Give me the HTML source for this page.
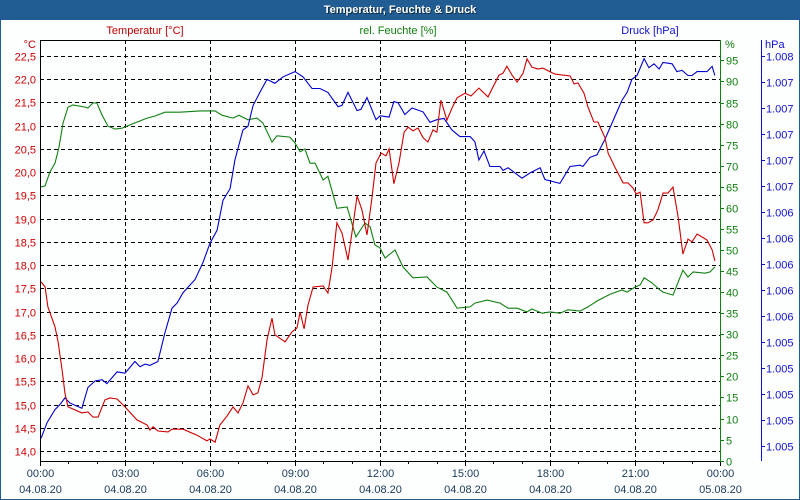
<!DOCTYPE html>
<html><head><meta charset="utf-8"><style>
body{margin:0;background:#fff;}
#wrap{position:relative;width:800px;height:500px;overflow:hidden;font-family:"Liberation Sans",sans-serif;}
svg text{font-family:"Liberation Sans",sans-serif;font-size:11px;}
</style></head><body>
<div id="wrap">
<svg id="chart" width="800" height="500">
<rect x="0" y="0" width="800" height="500" fill="#fdfefe" stroke="#1f5c92" stroke-width="2"/>
<rect x="0" y="0" width="800" height="20" fill="#215d92"/>
<text x="401" y="14" text-anchor="middle" fill="#0b2a44" font-weight="bold">Temperatur, Feuchte &amp; Druck</text>
<text x="400" y="13" text-anchor="middle" fill="#fff" font-weight="bold">Temperatur, Feuchte &amp; Druck</text>
<text x="145" y="34" text-anchor="middle" fill="#c00000">Temperatur [°C]</text>
<text x="398" y="34" text-anchor="middle" fill="#108010">rel. Feuchte [%]</text>
<text x="650" y="34" text-anchor="middle" fill="#1010d0">Druck [hPa]</text>
<text x="36" y="48" text-anchor="end" fill="#c00000">°C</text>
<text x="725" y="48" fill="#108010">%</text>
<text x="765" y="48" fill="#1010d0">hPa</text>
<g id="grid"></g>
<g id="axes"></g>
<g id="series"></g>
</svg>
</div>
<script>
const tempTicks=[14.0,14.5,15.0,15.5,16.0,16.5,17.0,17.5,18.0,18.5,19.0,19.5,20.0,20.5,21.0,21.5,22.0,22.5];
const humTicks=[0,5,10,15,20,25,30,35,40,45,50,55,60,65,70,75,80,85,90,95];
const pressTickVals=[1005.0,1005.2,1005.4,1005.6,1005.8,1006.0,1006.2,1006.4,1006.6,1006.8,1007.0,1007.2,1007.4,1007.6,1007.8,1008.0];
const pressTickLabels=["1.005","1.005","1.005","1.005","1.005","1.006","1.006","1.006","1.006","1.006","1.007","1.007","1.007","1.007","1.007","1.008"];
const timeLabels=["00:00","03:00","06:00","09:00","12:00","15:00","18:00","21:00","00:00"];
const dateLabels=["04.08.20","04.08.20","04.08.20","04.08.20","04.08.20","04.08.20","04.08.20","04.08.20","05.08.20"];

const tempHours=[0.04,0.18,0.28,0.53,0.64,0.78,0.88,0.99,1.48,1.69,1.87,2.05,2.29,2.47,2.72,3.00,3.42,3.78,3.88,3.99,4.16,4.52,4.66,5.05,5.54,5.89,6.00,6.18,6.35,6.60,6.81,6.99,7.16,7.34,7.52,7.69,7.84,8.01,8.19,8.29,8.65,8.89,9.07,9.18,9.32,9.46,9.64,9.99,10.16,10.31,10.48,10.66,10.87,11.01,11.19,11.36,11.54,11.72,11.86,12.04,12.21,12.32,12.49,12.67,12.85,12.99,13.16,13.34,13.52,13.69,13.87,14.01,14.15,14.36,14.54,14.72,15.00,15.21,15.49,15.81,16.20,16.34,16.48,16.66,16.84,17.05,17.19,17.36,17.58,17.75,18.00,18.18,18.71,18.85,18.99,19.20,19.34,19.55,19.69,19.94,20.05,20.29,20.58,20.75,20.93,21.04,21.18,21.32,21.46,21.64,21.81,21.99,22.16,22.34,22.52,22.69,22.87,23.01,23.19,23.54,23.72,23.82];
const tempValues=[17.64,17.53,17.10,16.67,16.35,15.74,15.25,14.95,14.82,14.84,14.73,14.73,15.10,15.14,15.12,14.95,14.67,14.56,14.45,14.52,14.43,14.41,14.47,14.47,14.34,14.22,14.26,14.19,14.56,14.75,14.95,14.82,15.03,15.40,15.21,15.25,15.59,16.39,16.86,16.50,16.35,16.56,16.65,16.99,16.63,17.14,17.53,17.55,17.40,17.96,18.91,18.69,18.11,18.69,19.49,19.19,18.65,19.47,20.20,20.41,20.35,20.50,19.75,20.20,20.86,20.97,20.89,20.95,20.74,20.65,20.91,20.86,21.55,21.12,21.38,21.60,21.70,21.64,21.81,21.62,22.09,22.13,22.28,22.09,21.94,22.13,22.44,22.26,22.22,22.24,22.16,22.11,22.07,21.90,21.92,21.70,21.40,21.08,21.08,20.74,20.41,20.11,19.77,19.77,19.66,19.53,19.57,18.91,18.91,18.97,19.19,19.55,19.55,19.68,19.04,18.24,18.56,18.50,18.67,18.54,18.33,18.09];

const humHours=[0.04,0.18,0.35,0.53,0.67,0.81,0.99,1.16,1.59,1.69,1.87,2.01,2.19,2.40,2.65,2.89,3.25,3.78,4.06,4.41,4.94,5.65,6.18,6.42,6.81,7.02,7.34,7.66,7.87,8.19,8.36,8.82,9.00,9.18,9.35,9.53,9.71,9.99,10.16,10.48,10.84,11.15,11.47,11.65,11.82,12.00,12.18,12.53,12.81,13.16,13.66,14.01,14.36,14.72,15.18,15.35,15.78,16.24,16.52,16.84,17.19,17.36,17.72,18.00,18.35,18.64,19.06,19.34,19.66,20.12,20.54,20.72,21.00,21.18,21.32,21.60,21.88,21.99,22.34,22.69,22.87,23.05,23.47,23.65,23.82];
const humValues=[65.0,65.2,68.5,70.6,74.4,80.1,83.9,84.4,83.9,83.7,84.9,84.9,82.0,79.4,78.7,78.9,79.9,81.3,81.8,82.7,82.7,83.0,83.0,82.0,81.3,82.0,80.9,81.3,80.1,75.6,77.1,76.8,75.4,73.3,74.0,70.6,70.6,66.6,67.5,59.9,60.2,53.1,56.4,55.5,51.2,50.5,48.1,50.0,46.0,43.4,43.6,41.2,40.0,36.2,36.5,37.4,38.1,37.4,36.2,36.2,35.3,36.0,35.0,35.3,35.0,35.8,35.5,36.5,37.9,39.5,40.5,40.0,41.2,41.7,43.4,42.2,40.5,40.0,39.3,45.2,43.6,44.8,44.5,44.8,46.0];

const pressHours=[0.04,0.25,0.53,0.71,0.88,1.06,1.48,1.69,1.94,2.19,2.36,2.72,3.00,3.35,3.53,3.71,3.88,4.16,4.41,4.66,4.84,5.05,5.47,5.75,6.00,6.25,6.46,6.71,6.88,7.16,7.34,7.52,7.76,8.01,8.29,8.58,9.00,9.28,9.60,9.88,10.16,10.52,10.66,10.87,11.19,11.33,11.54,11.86,12.00,12.32,12.49,12.64,12.88,13.13,13.52,13.76,14.01,14.26,14.54,14.82,15.18,15.35,15.49,15.67,15.88,16.24,16.34,16.52,17.01,17.29,17.65,17.82,18.35,18.71,19.06,19.16,19.41,19.66,19.94,20.12,20.36,20.54,20.72,20.89,21.07,21.32,21.49,21.67,21.85,21.99,22.31,22.48,22.66,22.87,23.01,23.19,23.54,23.72,23.82];
const pressValues=[1005.06,1005.18,1005.28,1005.32,1005.37,1005.33,1005.29,1005.45,1005.50,1005.51,1005.48,1005.57,1005.56,1005.65,1005.61,1005.63,1005.62,1005.65,1005.87,1006.06,1006.10,1006.18,1006.28,1006.41,1006.56,1006.66,1006.89,1006.98,1007.20,1007.43,1007.46,1007.62,1007.72,1007.82,1007.79,1007.84,1007.88,1007.84,1007.75,1007.75,1007.72,1007.61,1007.62,1007.72,1007.58,1007.59,1007.68,1007.51,1007.54,1007.53,1007.65,1007.64,1007.55,1007.60,1007.57,1007.49,1007.51,1007.52,1007.43,1007.38,1007.38,1007.34,1007.20,1007.27,1007.15,1007.15,1007.12,1007.14,1007.06,1007.10,1007.14,1007.05,1007.02,1007.15,1007.16,1007.15,1007.22,1007.24,1007.36,1007.45,1007.57,1007.66,1007.72,1007.82,1007.85,1007.98,1007.91,1007.94,1007.90,1007.95,1007.94,1007.88,1007.89,1007.85,1007.85,1007.88,1007.88,1007.92,1007.85];

const NS="http://www.w3.org/2000/svg";
const X0=40,X1=720,YB=461,YT=40;
function xH(h){return X0+(X1-X0)*h/24;}
function yT(t){return 451-(t-14)*46.47;}
function yH(v){return 460.7-v*4.214;}
function yP(p){return 446-(p-1005)*130;}
function mk(tag,attrs,parent){const e=document.createElementNS(NS,tag);for(const k in attrs)e.setAttribute(k,attrs[k]);parent.appendChild(e);return e;}
const grid=document.getElementById('grid'),axes=document.getElementById('axes'),series=document.getElementById('series');

tempTicks.forEach(t=>{
  const y=Math.round(yT(t))+0.5;
  const l=mk('line',{x1:X0,x2:X1,y1:y,y2:y,stroke:'#000','stroke-dasharray':'4,3','stroke-width':1},grid);
  
  
  const tx=mk('text',{x:36,y:y+4,'text-anchor':'end',fill:'#d00000'},axes);
  tx.textContent=t.toFixed(1).replace('.',',');
  
  
});
timeLabels.forEach((lab,i)=>{
  const x=Math.round(xH(i*3))+0.5;
  if(i>0&&i<8){
    const l=mk('line',{x1:x,x2:x,y1:YT,y2:YB,stroke:'#000','stroke-dasharray':'4,3'},grid);
    
    
  }
  const t1=mk('text',{x:x,y:477,'text-anchor':'middle',fill:'#1a3a5a'},axes);
  t1.textContent=lab;
  
  
  const t2=mk('text',{x:x,y:493,'text-anchor':'middle',fill:'#1a3a5a'},axes);
  t2.textContent=dateLabels[i];
  
  
});
for(let h=0;h<=24;h++){
  const x=Math.round(xH(h))+0.5;
  const tk=mk('line',{x1:x,x2:x,y1:YB,y2:YB+(h%3===0?5:3),stroke:'#000'},axes);
  
  
}
let a;
a=mk('line',{x1:X0+0.5,x2:X0+0.5,y1:YT,y2:YB,stroke:'#000'},axes);
a=mk('line',{x1:X0,x2:X1,y1:YT+0.5,y2:YT+0.5,stroke:'#000'},axes);
a=mk('line',{x1:X0,x2:X1,y1:YB+0.5,y2:YB+0.5,stroke:'#000'},axes);
a=mk('line',{x1:720.5,x2:720.5,y1:YT,y2:YB,stroke:'#108010'},axes);
a=mk('line',{x1:761.5,x2:761.5,y1:YT,y2:YB,stroke:'#1010d0'},axes);
humTicks.forEach(v=>{
  const y=Math.round(yH(v))+0.5;
  const tk=mk('line',{x1:720,x2:724,y1:y,y2:y,stroke:'#108010'},axes);
  
  
  const tx=mk('text',{x:726,y:y+4,fill:'#108010'},axes);
  tx.textContent=v;
  
  
});
pressTickVals.forEach((p,i)=>{
  const y=Math.round(yP(p))+0.5;
  const tk=mk('line',{x1:761,x2:765,y1:y,y2:y,stroke:'#1010d0'},axes);
  
  
  const tx=mk('text',{x:766,y:y+4,fill:'#1010d0'},axes);
  tx.textContent=pressTickLabels[i];
  
  
});
function line(hs,vs,yf,color,name){
  const d=hs.map((h,i)=>(i?'L':'M')+xH(h).toFixed(1)+' '+yf(vs[i]).toFixed(1)).join('');
  const p=mk('path',{d:d,fill:'none',stroke:color,'stroke-width':1.1},series);
  
  
}
line(humHours,humValues,yH,'#108010','humidity-line');
line(pressHours,pressValues,yP,'#0000d0','pressure-line');
line(tempHours,tempValues,yT,'#d00000','temperature-line');
</script>
</body></html>
